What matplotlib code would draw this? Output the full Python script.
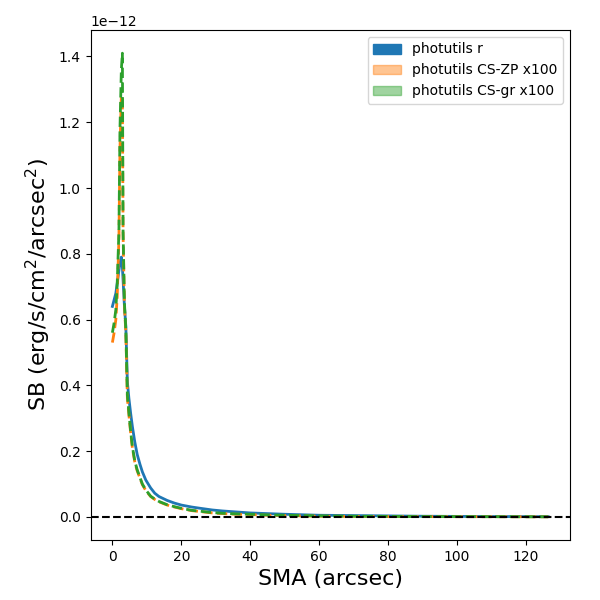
import numpy as np
import matplotlib
matplotlib.use("Agg")
import matplotlib.pyplot as plt
from matplotlib.patches import Patch

# surface brightness profiles, values in units of 1e-12 erg/s/cm^2/arcsec^2
sma = [0, 0.5, 1.0, 1.4, 1.9, 2.2, 2.6, 2.9, 3.1, 3.5,
       3.9, 4.35, 4.8, 5.3, 5.8, 6.5, 7.2, 8.0, 8.7, 9.7,
       11.1, 12.3, 13.5, 15.9, 18, 20, 23, 25.6, 29, 32,
       36, 40, 45, 50, 60, 70, 80, 90, 100, 110,
       120, 126.5]

sb_r = [0.64, 0.66, 0.68, 0.71, 0.75, 0.77, 0.79, 0.76, 0.72, 0.64,
        0.58, 0.41, 0.36, 0.315, 0.275, 0.228, 0.19, 0.16, 0.137, 0.112,
        0.088, 0.072, 0.062, 0.050, 0.042, 0.036, 0.030, 0.026, 0.021, 0.018,
        0.015, 0.012, 0.010, 0.008, 0.005, 0.004, 0.003, 0.002, 0.0015, 0.001,
        0.0008, 0.0006]

sb_cs_zp = [0.53, 0.56, 0.60, 0.67, 0.85, 1.12, 1.28, 1.26, 0.86, 0.64,
            0.56, 0.36, 0.31, 0.255, 0.21, 0.167, 0.14, 0.118, 0.098, 0.08,
            0.062, 0.053, 0.046, 0.036, 0.030, 0.025, 0.019, 0.016, 0.012, 0.010,
            0.008, 0.007, 0.005, 0.004, 0.002, 0.0015, 0.001, 0.0008, 0.0006, 0.0005,
            0.0003, 0.0002]

sb_cs_gr = [0.56, 0.59, 0.63, 0.71, 0.87, 1.18, 1.36, 1.41, 0.87, 0.65,
            0.57, 0.37, 0.316, 0.26, 0.214, 0.17, 0.143, 0.12, 0.10, 0.082,
            0.063, 0.054, 0.047, 0.037, 0.031, 0.026, 0.020, 0.017, 0.013, 0.011,
            0.009, 0.008, 0.006, 0.005, 0.003, 0.002, 0.0015, 0.001, 0.0008, 0.0006,
            0.0004, 0.0003]

labels = ["photutils r", "photutils CS-ZP x100", "photutils CS-gr x100"]
unit = 1e-12

x = np.array(sma)
fig, ax = plt.subplots(figsize=(6, 6), dpi=100)
fig.subplots_adjust(left=0.151, right=0.95, bottom=0.1, top=0.95)

ax.plot(x, np.array(sb_r) * unit, color="C0", lw=2)
ax.plot(x, np.array(sb_cs_zp) * unit, color="C1", lw=2, ls="--")
ax.plot(x, np.array(sb_cs_gr) * unit, color="C2", lw=2, ls="--")
ax.axhline(0, color="black", ls="--")

handles = [Patch(color="C0", alpha=1.0),
           Patch(color="C1", alpha=0.45),
           Patch(color="C2", alpha=0.45)]
ax.legend(handles, labels, loc="upper right")

ax.set_xlabel("SMA (arcsec)", fontsize=16)
ax.set_ylabel(r"SB (erg/s/cm$^2$/arcsec$^2$)", fontsize=16)

fig.savefig("out.png")
